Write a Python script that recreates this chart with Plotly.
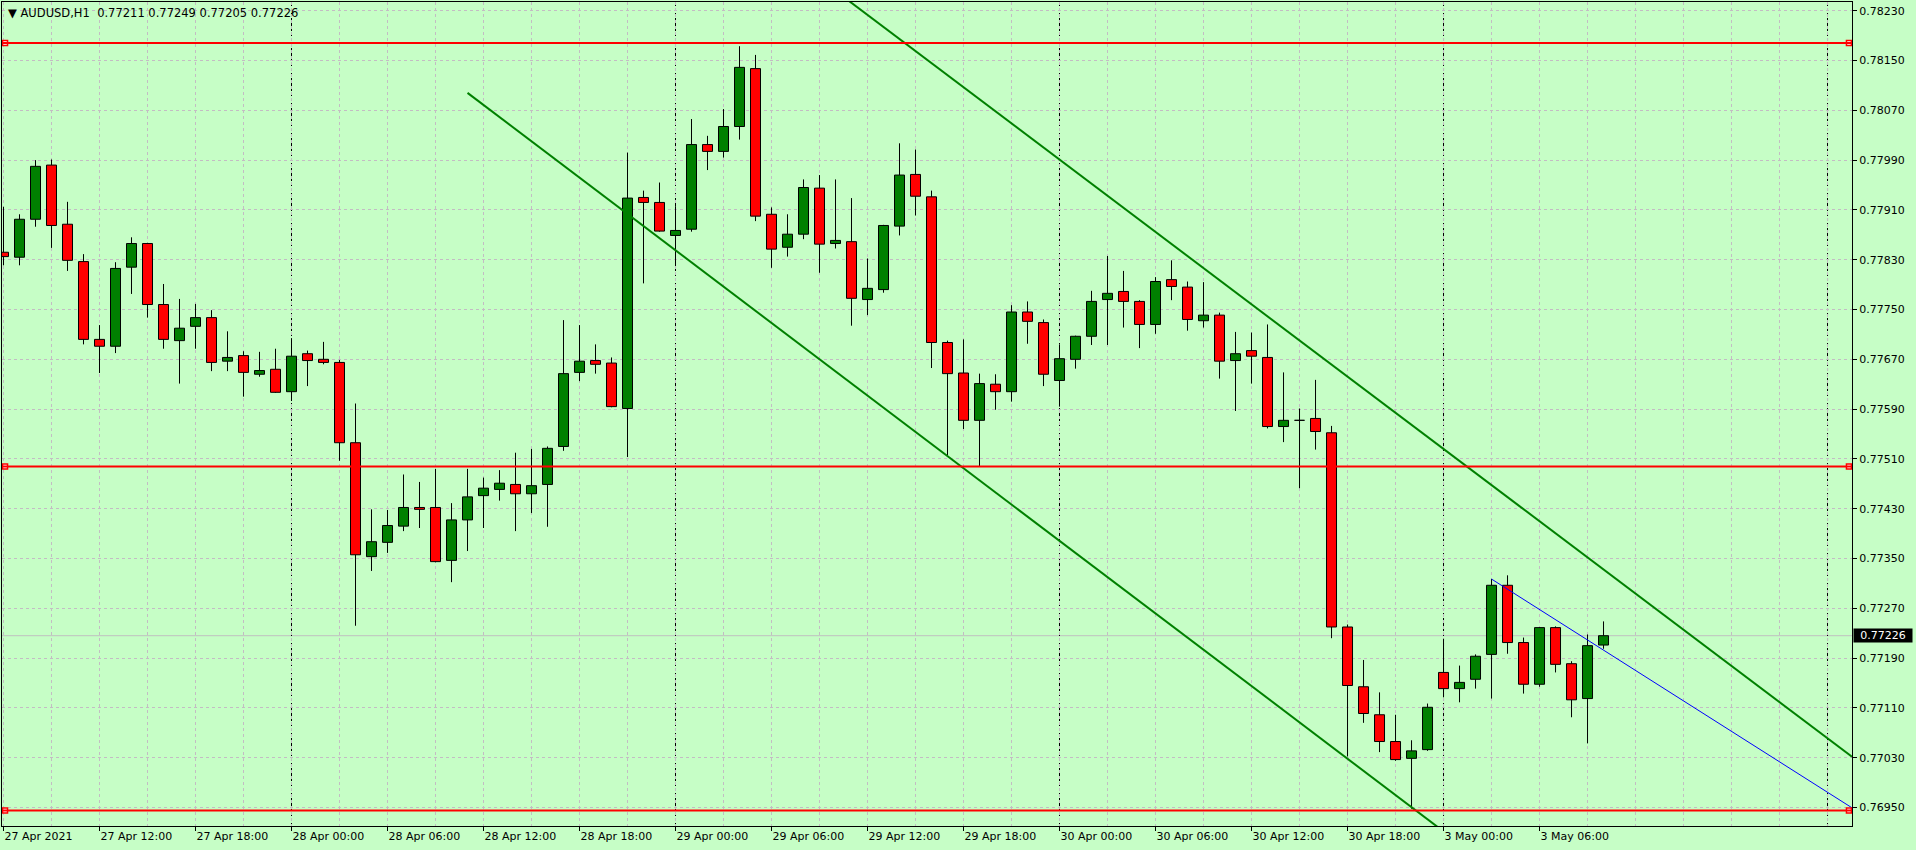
import plotly.graph_objects as go

# ---------------- data ----------------
symbol_title = "AUDUSD,H1"
days = ["27 Apr", "28 Apr", "29 Apr", "30 Apr", "3 May"]
day_first_hour = [6, 0, 0, 0, 0]
day_bar_count = [18, 24, 24, 24, 11]

open_ = [0.77842, 0.77834, 0.77895, 0.77982, 0.77887, 0.77827, 0.77702, 0.77691, 0.77818, 0.77856,
         0.77758, 0.77700, 0.77723, 0.77737, 0.77667, 0.77676, 0.77646, 0.77654, 0.77618, 0.77679,
         0.77670, 0.77665, 0.77536, 0.77353, 0.77376, 0.77402, 0.77432, 0.77432, 0.77347, 0.77412,
         0.77451, 0.77461, 0.77469, 0.77454, 0.77469, 0.77530, 0.77649, 0.77668, 0.77664, 0.77591,
         0.77930, 0.77922, 0.77869, 0.77879, 0.78015, 0.78004, 0.78044, 0.78137, 0.77903, 0.77850,
         0.77871, 0.77945, 0.77856, 0.77859, 0.77766, 0.77782, 0.77884, 0.77967, 0.77931, 0.77697,
         0.77648, 0.77572, 0.77630, 0.77618, 0.77746, 0.77729, 0.77636, 0.77670, 0.77707, 0.77766,
         0.77779, 0.77763, 0.77726, 0.77798, 0.77786, 0.77732, 0.77741, 0.77668, 0.77684, 0.77673,
         0.77562, 0.77572, 0.77575, 0.77552, 0.77240, 0.77144, 0.77099, 0.77056, 0.77029, 0.77043,
         0.77167, 0.77141, 0.77156, 0.77196, 0.77307, 0.77215, 0.77148, 0.77239, 0.77181, 0.77125,
         0.77211]
high = [0.77915, 0.77903, 0.77990, 0.77991, 0.77923, 0.77839, 0.77725, 0.77826, 0.77866, 0.77857,
        0.77791, 0.77767, 0.77759, 0.77749, 0.77715, 0.77683, 0.77682, 0.77687, 0.77704, 0.77684,
        0.77698, 0.77669, 0.77599, 0.77429, 0.77428, 0.77485, 0.77473, 0.77494, 0.77439, 0.77494,
        0.77480, 0.77492, 0.77520, 0.77526, 0.77530, 0.77733, 0.77725, 0.77694, 0.77673, 0.78002,
        0.77941, 0.77954, 0.77916, 0.78056, 0.78029, 0.78072, 0.78173, 0.78159, 0.77914, 0.77903,
        0.77959, 0.77966, 0.77959, 0.77929, 0.77832, 0.77886, 0.78017, 0.78007, 0.77941, 0.77700,
        0.77702, 0.77647, 0.77646, 0.77757, 0.77763, 0.77734, 0.77694, 0.77708, 0.77780, 0.77836,
        0.77812, 0.77765, 0.77802, 0.77829, 0.77795, 0.77794, 0.77745, 0.77714, 0.77713, 0.77726,
        0.77649, 0.77591, 0.77637, 0.77563, 0.77244, 0.77187, 0.77135, 0.77099, 0.77058, 0.77117,
        0.77221, 0.77178, 0.77196, 0.77317, 0.77323, 0.77223, 0.77240, 0.77241, 0.77185, 0.77228,
        0.77249]
low = [0.77821, 0.77821, 0.77883, 0.77849, 0.77812, 0.77694, 0.77648, 0.77680, 0.77775, 0.77737,
       0.77687, 0.77631, 0.77687, 0.77651, 0.77651, 0.77610, 0.77642, 0.77616, 0.77603, 0.77627,
       0.77662, 0.77507, 0.77242, 0.77330, 0.77359, 0.77394, 0.77399, 0.77344, 0.77312, 0.77362,
       0.77399, 0.77443, 0.77394, 0.77423, 0.77401, 0.77523, 0.77635, 0.77647, 0.77593, 0.77513,
       0.77792, 0.77875, 0.77821, 0.77875, 0.77974, 0.77994, 0.78023, 0.77892, 0.77817, 0.77835,
       0.77863, 0.77809, 0.77848, 0.77724, 0.77741, 0.77777, 0.77869, 0.77901, 0.77656, 0.77516,
       0.77558, 0.77497, 0.77589, 0.77602, 0.77695, 0.77627, 0.77594, 0.77655, 0.77693, 0.77693,
       0.77721, 0.77688, 0.77711, 0.77765, 0.77716, 0.77721, 0.77639, 0.77587, 0.77631, 0.77559,
       0.77537, 0.77463, 0.77525, 0.77222, 0.77032, 0.77086, 0.77039, 0.77025, 0.76948, 0.77041,
       0.77127, 0.77119, 0.77141, 0.77125, 0.77197, 0.77133, 0.77144, 0.77167, 0.77095, 0.77053,
       0.77205]
close = [0.77835, 0.77895, 0.77980, 0.77885, 0.77829, 0.77702, 0.77691, 0.77816, 0.77856, 0.77758,
         0.77702, 0.77720, 0.77737, 0.77665, 0.77673, 0.77649, 0.77652, 0.77617, 0.77675, 0.77668,
         0.77665, 0.77536, 0.77356, 0.77377, 0.77403, 0.77432, 0.77429, 0.77345, 0.77412, 0.77449,
         0.77463, 0.77471, 0.77454, 0.77467, 0.77527, 0.77647, 0.77667, 0.77662, 0.77594, 0.77929,
         0.77922, 0.77876, 0.77877, 0.78015, 0.78004, 0.78044, 0.78139, 0.77900, 0.77847, 0.77871,
         0.77946, 0.77855, 0.77861, 0.77768, 0.77784, 0.77885, 0.77966, 0.77932, 0.77697, 0.77647,
         0.77572, 0.77631, 0.77618, 0.77746, 0.77731, 0.77646, 0.77671, 0.77707, 0.77763, 0.77776,
         0.77763, 0.77726, 0.77795, 0.77787, 0.77734, 0.77741, 0.77667, 0.77679, 0.77675, 0.77562,
         0.77572, 0.77572, 0.77554, 0.77240, 0.77146, 0.77101, 0.77056, 0.77027, 0.77041, 0.77111,
         0.77141, 0.77151, 0.77193, 0.77307, 0.77215, 0.77148, 0.77239, 0.77180, 0.77123, 0.77210,
         0.77226]

x_tick_labels = ["27 Apr 2021", "27 Apr 12:00", "27 Apr 18:00",
                 "28 Apr 00:00", "28 Apr 06:00", "28 Apr 12:00", "28 Apr 18:00",
                 "29 Apr 00:00", "29 Apr 06:00", "29 Apr 12:00", "29 Apr 18:00",
                 "30 Apr 00:00", "30 Apr 06:00", "30 Apr 12:00", "30 Apr 18:00",
                 "3 May 00:00", "3 May 06:00"]
price_tick_labels = ["0.76950", "0.77030", "0.77110", "0.77190", "0.77270", "0.77350",
                     "0.77430", "0.77510", "0.77590", "0.77670", "0.77750", "0.77830",
                     "0.77910", "0.77990", "0.78070", "0.78150", "0.78230"]

horizontal_levels = [0.78178, 0.77498, 0.76945]
bid_price = 0.77226
# trend lines: two anchor points each (bar index, price)
channel_lower = [(29.0, 0.78098), (89.57, 0.76920)]
channel_upper = [(71.0, 0.77894), (103.53, 0.77264)]
channel_start = 29.0
blue_line = [(93.0, 0.77317), (115.5, 0.76950)]

# ---------------- derived ----------------
bars = []
for d, h0, n in zip(days, day_first_hour, day_bar_count):
    for k in range(n):
        bars.append((d, h0 + k))
idx = list(range(len(bars)))
tick_pos = [i for i, (d, h) in enumerate(bars) if h % 6 == 0]
day_starts = [i for i, (d, h) in enumerate(bars) if h == 0]
day_starts.append(day_starts[-1] + 24)

x_range = [-0.094, 115.53]
y_range = [0.769203, 0.782440]

BG = "#c6fec6"
GRID = "#c3bcc3"
GREEN = "#008000"
RED = "#ff0000"
FONT = "DejaVu Sans"


def line_at(pts, x):
    (x0, y0), (x1, y1) = pts
    return y0 + (y1 - y0) * (x - x0) / (x1 - x0)


fig = go.Figure()

# wicks (upper and lower parts, so they don't cross bodies)
wx, wy = [], []
for i in idx:
    top = max(open_[i], close[i])
    bot = min(open_[i], close[i])
    wx += [i, i, None, i, i, None]
    wy += [high[i], top, None, bot, low[i], None]
fig.add_trace(go.Scatter(x=wx, y=wy, mode="lines", line=dict(color="black", width=1),
                         hoverinfo="skip", showlegend=False))

# bodies
body_h = [c - o for o, c in zip(open_, close)]
colors = [GREEN if c > o else RED for o, c in zip(open_, close)]
fig.add_trace(go.Bar(x=idx, y=body_h, base=open_, width=0.625,
                     marker=dict(color=colors, line=dict(color="black", width=1)),
                     showlegend=False, hoverinfo="skip"))

# channel lines
xs = [channel_start, x_range[1]]
fig.add_trace(go.Scatter(x=xs, y=[line_at(channel_lower, v) for v in xs], mode="lines",
                         line=dict(color=GREEN, width=2), hoverinfo="skip", showlegend=False))
fig.add_trace(go.Scatter(x=xs, y=[line_at(channel_upper, v) for v in xs], mode="lines",
                         line=dict(color=GREEN, width=2), hoverinfo="skip", showlegend=False))
bx = [blue_line[0][0], x_range[1]]
fig.add_trace(go.Scatter(x=bx, y=[line_at(blue_line, v) for v in bx], mode="lines",
                         line=dict(color="#0000ff", width=1), hoverinfo="skip", showlegend=False))

shapes = []
# bid line
shapes.append(dict(type="line", xref="paper", x0=0, x1=1, yref="y", y0=bid_price, y1=bid_price,
                   line=dict(color="#c0c0c0", width=1), layer="below"))
# day separators
for d in day_starts:
    shapes.append(dict(type="line", xref="x", x0=d, x1=d, yref="paper", y0=0, y1=1,
                       line=dict(color="black", width=1, dash="3px,2px"), layer="below"))
# horizontal levels
for lv in horizontal_levels:
    shapes.append(dict(type="line", xref="paper", x0=0, x1=1, yref="y", y0=lv, y1=lv,
                       line=dict(color=RED, width=2), layer="above"))
fig.update_layout(shapes=shapes)

# anchor squares of the horizontal levels
mx, my = [], []
for lv in horizontal_levels:
    mx += [x_range[0] + 0.19, x_range[1] - 0.19]
    my += [lv, lv]
fig.add_trace(go.Scatter(x=mx, y=my, mode="markers", cliponaxis=False,
                         marker=dict(symbol="square", size=5, color="white",
                                     line=dict(color=RED, width=1.5)),
                         hoverinfo="skip", showlegend=False))

price_vals = [float(s) for s in price_tick_labels]

fig.update_layout(
    width=1916, height=850,
    margin=dict(l=2, r=64, t=2, b=24, pad=0),
    paper_bgcolor=BG, plot_bgcolor=BG,
    showlegend=False,
    font=dict(family=FONT, size=11, color="black"),
    xaxis=dict(range=x_range, tickmode="array", tickvals=tick_pos, ticktext=x_tick_labels,
               ticks="outside", ticklen=4, tickcolor="black", ticklabelposition="outside right",
               showgrid=True, gridcolor=GRID, griddash="3px,3px", gridwidth=1,
               minor=dict(tickmode="linear", tick0=0, dtick=3, showgrid=True, gridcolor=GRID,
                          griddash="3px,3px", ticks=""),
               showline=True, linecolor="black", linewidth=1, mirror=True,
               zeroline=False, fixedrange=True,
               tickfont=dict(family=FONT, size=11, color="black")),
    yaxis=dict(range=y_range, side="right", tickmode="array", tickvals=price_vals,
               ticktext=price_tick_labels, ticks="outside", ticklen=4, tickcolor="black",
               showgrid=True, gridcolor=GRID, griddash="3px,3px", gridwidth=1,
               showline=True, linecolor="black", linewidth=1, mirror=True,
               zeroline=False, fixedrange=True,
               tickfont=dict(family=FONT, size=11, color="black")),
    bargap=0,
)

title_txt = ("\u25BC\u00a0" + symbol_title + "\u00a0\u00a0" +
             " ".join(f"{v:.5f}" for v in (open_[-1], high[-1], low[-1], close[-1])))
fig.add_annotation(xref="paper", yref="paper", x=0, y=1, xanchor="left", yanchor="top",
                   xshift=4, yshift=-2, text=title_txt, showarrow=False,
                   font=dict(family=FONT, size=11.5, color="black"))
fig.add_annotation(xref="paper", yref="y", x=1, y=bid_price, xanchor="left", yanchor="middle",
                   xshift=1, text=f"{bid_price:.5f}", showarrow=False, bgcolor="black",
                   width=58, height=13, borderpad=0, align="center",
                   font=dict(family=FONT, size=11, color="white"))

page_fix = ("document.documentElement.style.margin='0';document.body.style.margin='0';"
            "document.body.style.padding='0';document.body.style.overflow='hidden';"
            "document.body.style.background='" + BG + "';")
fig.write_html("out.html", config={"displayModeBar": False, "staticPlot": True},
               post_script=page_fix)
